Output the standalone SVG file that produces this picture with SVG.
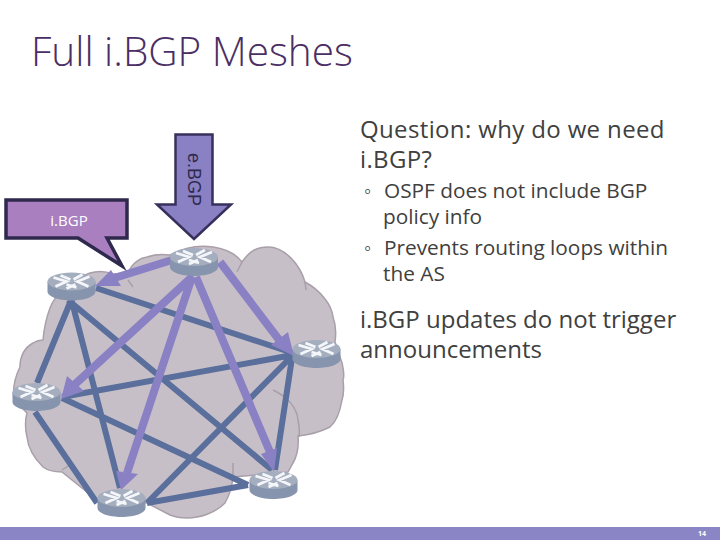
<svg xmlns="http://www.w3.org/2000/svg" width="720" height="540" viewBox="0 0 720 540">
<style>
text{font-family:"Open Sans","Liberation Sans",sans-serif}
.t{fill:#404040}
.d{stroke:#5a6f9c;stroke-width:6;fill:none}
.l{stroke:#8a80c4;stroke-width:8;fill:none}
.h{fill:#8a80c4}
.cf{fill:#c7bfc8;stroke:#a89fa9;stroke-width:1.5}
.side{fill:#8694ad}
.top{fill:#a4aebf}
.x{stroke:#f4f6fa;stroke-width:2.800;fill:none}
</style>
<defs>
<g id="router">
<path class="side" d="M-24,0V10C-24,15 -13,19 0,19C13,19 24,15 24,10V0Z"/>
<ellipse class="top" cx="0" cy="0" rx="24" ry="9"/>
<path class="x" d="M-18,-4L-5,0L-16,5M-11,-6L-1,-2M18,-5L6,0L17,5M11,-7L2,-2M-5,3L5,6M4,3L-5,7"/>
</g>
</defs>
<rect width="720" height="540" fill="#fff"/>
<text x="31" y="66" font-size="40.500" font-weight="300" fill="#4b2e63">Full i.BGP Meshes</text>
<g id="cloud">
<path class="cf" d="M90,273C100,270 108,272 113,274L128,273C132,263 140,258 147,257C155,254 163,254 170,255C185,247 200,245 213,247C226,249 236,254 242,262C250,250 258,247 268,247C285,247 300,265 305,282C320,290 332,305 333,317C336,325 336,335 335,342L342,363C344,372 344,378 343,380C344,388 344,394 342,400C340,412 336,422 330,427C320,432 308,435 298,436C299,448 296,458 293,463L288,472L233,477C232,487 229,496 225,503C215,513 200,518 187,518C180,518 175,517 170,515L147,503L97,500L62,472C52,472 47,470 43,467C34,458 28,447 27,437C25,428 25,420 27,413L14,400C12,385 16,375 20,367C20,355 26,347 33,343C36,341 40,340 43,340C44,328 47,316 50,308C55,295 70,280 90,273Z"/>
<path fill="none" stroke="#a89fa9" stroke-width="1.5" d="M273,390C288,397 297,408 298,420C300,430 299,437 299,437M233,463V477M306,290L305,282M237,272L242,262M128,280L133,287M68,466L62,470"/>
</g>
<g id="connectors">
<path class="d" d="M96,288L293,353M71,298L120,488M68,300L272,470M37,383L72,298M62,397L293,355M62,398L248,485M35,412L97,503M147,503L248,485M147,503L293,355M292,358L275,470"/>
<path class="l" d="M172,260L108,280M193,276L72,387M192,277L127,473M196,277L270,452M220,262L283,345"/>
<path class="h" d="M95,286L111,270L121,286ZM61,399L67,376L84,391ZM121,490L116,471L138,474ZM274,472L261,454L277,448ZM294,356L271,345L288,332Z"/>
</g>
<g id="router-a"><use href="#router" x="71.500" y="281.500"/></g>
<g id="router-b"><use href="#router" x="194" y="257"/></g>
<g id="router-c"><use href="#router" x="316.500" y="349"/></g>
<g id="router-d"><use href="#router" x="273.500" y="480"/></g>
<g id="router-e"><use href="#router" x="121.500" y="498"/></g>
<g id="router-f"><use href="#router" x="36.500" y="392"/></g>
<g id="ebgp">
<path d="M175.500,134.500H212.500V204.500H231L194,239L157,204.500H175.500Z" fill="#8a80c4" stroke="#38305c" stroke-width="2.500"/>
<text transform="translate(188,153) rotate(90)" font-size="18" style="font-family:'Liberation Sans',sans-serif" fill="#2f2a4d">e.BGP</text>
</g>
<g id="ibgp">
<path d="M6,200H127V238H107L122,266L78,238H6Z" fill="#a97fbf" stroke="#2f2a4d" stroke-width="3.500"/>
<text x="69" y="226" font-size="15" text-anchor="middle" style="fill:#fff">i.BGP</text>
</g>
<g id="text" font-size="24">
<text class="t" x="360" y="138" letter-spacing=".36">Question: why do we need</text>
<text class="t" x="360" y="168" letter-spacing=".36">i.BGP?</text>
<g font-size="20.800">
<text class="t" x="364" y="198">◦</text>
<text class="t" x="384" y="198">OSPF does not include BGP</text>
<text class="t" x="383" y="224">policy info</text>
<text class="t" x="364" y="255">◦</text>
<text class="t" x="384" y="255">Prevents routing loops within</text>
<text class="t" x="383" y="281">the AS</text>
</g>
<text class="t" x="360" y="328">i.BGP updates do not trigger</text>
<text class="t" x="360" y="358">announcements</text>
</g>
<rect id="footer" x="0" y="527" width="720" height="13" fill="#8a85c4"/>
<text x="702" y="536" font-size="7" font-weight="bold" text-anchor="middle" style="fill:#fff">14</text>
</svg>
